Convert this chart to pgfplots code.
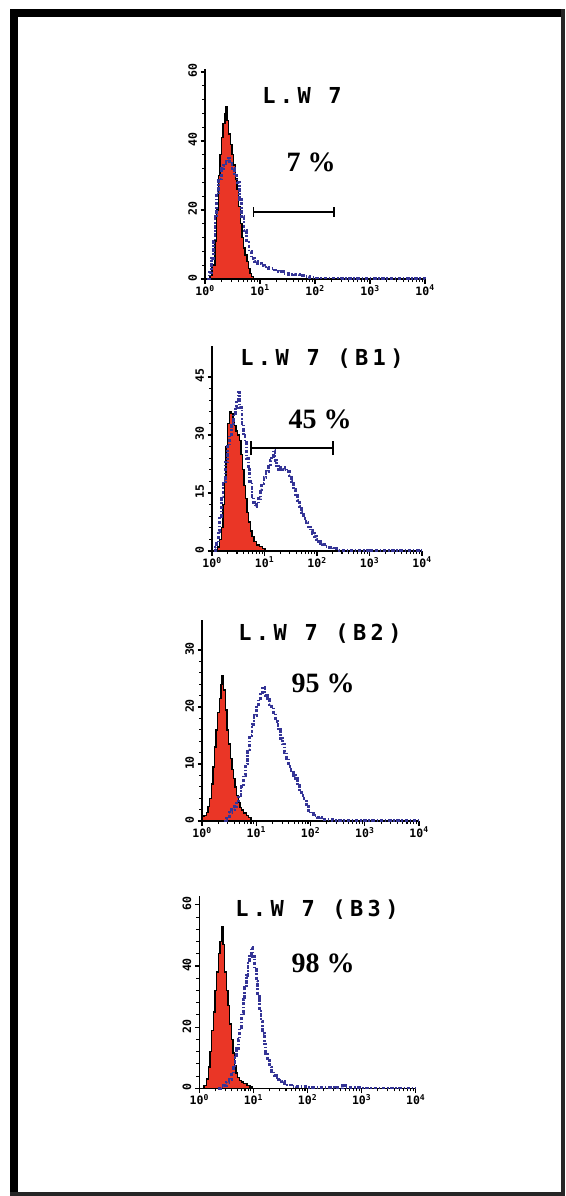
\documentclass[border=0pt]{standalone}
\usepackage{fontspec}
\usepackage{pgfplots}
\pgfplotsset{compat=1.18}
\setmainfont{Liberation Serif}
\newfontfamily\titlefont[LetterSpace=20]{DejaVu Sans Mono}
\newfontfamily\tickfont{DejaVu Sans Mono}
\definecolor{fred}{RGB}{234,54,38}
\definecolor{fblue}{RGB}{52,52,150}

\pgfplotsset{
  facs/.style={
    scale only axis, enlargelimits=false, clip=false,
    xmin=0, xmax=4, ymin=0,
    axis x line=bottom, axis y line=left,
    axis line style={-, line width=1.3pt},
    tick align=outside,
    xtick={0,1,2,3,4},
    xticklabels={10\textsuperscript{0},10\textsuperscript{1},10\textsuperscript{2},10\textsuperscript{3},10\textsuperscript{4}},
    minor xtick={0.301,0.477,0.602,0.699,0.778,0.845,0.903,0.954,
                 1.301,1.477,1.602,1.699,1.778,1.845,1.903,1.954,
                 2.301,2.477,2.602,2.699,2.778,2.845,2.903,2.954,
                 3.301,3.477,3.602,3.699,3.778,3.845,3.903,3.954},
    minor y tick num=4,
    major tick length=4.5pt, minor tick length=3pt,
    every tick/.style={black, line width=1.1pt},
    /pgf/number format/assume math mode=true,
    tick label style={font=\tickfont\bfseries\fontsize{11.5}{12}\selectfont},
    xticklabel style={yshift=2pt},
    yticklabel style={rotate=90, anchor=south, xshift=1pt},
  },
  red hist/.style={const plot, fill=fred, draw=black, line width=1.4pt},
  blue hist/.style={const plot, fblue, line width=2.8pt, dash pattern=on 3.5pt off 1.6pt on 1.6pt off 1.6pt},
}

\begin{document}
\begin{tikzpicture}[x=1pt,y=1pt]
\path[use as bounding box] (0pt,0pt) rectangle (565pt,-1196pt);
\fill[white] (0pt,0pt) rectangle (565pt,-1196pt);
% frame
\fill[black] (10pt,-9pt) rectangle (18pt,-1196pt);
\fill[black] (10pt,-9pt) rectangle (565pt,-17pt);
\fill[black!85] (561pt,-9pt) rectangle (565pt,-1196pt);
\fill[black!85] (10pt,-1192pt) rectangle (565pt,-1196pt);

% ---------------- Panel 1 ----------------
\begin{axis}[facs, at={(205pt,-279pt)}, anchor=south west,
  width=220pt, height=210.5pt, ymax=61, ytick={0,20,40,60}]
\addplot[red hist] table {
x y
0.05 0
0.09 1
0.13 4
0.18 11
0.21 20
0.24 30
0.27 36
0.30 41
0.33 45
0.36 48
0.38 50
0.40 46
0.43 42
0.46 39
0.49 36
0.52 33
0.55 29
0.58 26
0.61 21
0.64 16
0.67 12
0.70 9
0.73 7
0.76 5
0.79 3
0.82 1.6
0.85 0.7
0.88 0
} \closedcycle;
\addplot[blue hist] table {
x y
0.04 0
0.08 2
0.12 6
0.15 11
0.18 18
0.21 25
0.25 29
0.30 32
0.34 33
0.38 34
0.42 35
0.45 34
0.49 32
0.53 30
0.58 28
0.62 23
0.67 18
0.71 14
0.76 11
0.80 8
0.84 6
0.90 5
0.96 4.5
1.02 4
1.08 3.5
1.15 3
1.24 2.6
1.33 2.1
1.42 1.7
1.52 1.4
1.62 1.2
1.72 1.0
1.82 0.8
1.90 0.5
2.00 0.3
2.50 0.2
3.00 0.2
3.50 0.15
4.00 0.1
};
\addplot[black, line width=2.4pt] coordinates {(0.88,19.5) (2.35,19.5)};
\addplot[black, line width=1.8pt] coordinates {(0.88,18) (0.88,21)};
\addplot[black, line width=1.8pt] coordinates {(2.35,18) (2.35,21)};
\end{axis}

% ---------------- Panel 2 ----------------
\begin{axis}[facs, at={(212pt,-551pt)}, anchor=south west,
  width=210pt, height=205pt, ymax=53, ytick={0,15,30,45}]
\addplot[red hist] table {
x y
0.06 0
0.10 1
0.14 3
0.18 6
0.21 12
0.24 19
0.27 27
0.30 33
0.33 36
0.36 35.5
0.40 34
0.43 32.5
0.46 31
0.49 30
0.52 28.5
0.55 25
0.58 21
0.61 17
0.64 13.5
0.67 10
0.70 7.5
0.73 5.2
0.76 3.7
0.80 2.5
0.85 1.6
0.91 1.1
0.96 0.6
1.01 0
} \closedcycle;
\addplot[blue hist] table {
x y
0.03 0
0.06 1
0.09 2
0.12 5
0.15 9
0.18 14
0.21 18
0.25 23
0.29 27
0.33 30
0.37 33
0.41 35.5
0.44 37
0.47 38.5
0.50 41
0.53 37
0.57 33
0.60 30
0.63 28
0.66 24
0.69 21
0.72 18
0.76 14
0.79 12.5
0.82 11.5
0.85 12
0.88 13.5
0.92 16
0.95 17.5
0.99 19
1.03 20.5
1.07 22
1.11 23.5
1.14 24.5
1.17 26
1.20 23.5
1.23 22
1.27 21
1.31 21.5
1.35 21
1.39 21.5
1.43 20.5
1.47 19.5
1.51 18
1.55 16
1.59 14.5
1.63 13
1.67 11.5
1.71 10
1.75 8.5
1.79 7.3
1.83 6.2
1.87 5.3
1.91 4.6
1.95 3.8
1.99 3.0
2.03 2.5
2.07 2.0
2.11 1.6
2.15 1.2
2.20 1.0
2.26 0.8
2.32 0.7
2.38 0.5
2.42 0.2
2.60 0.1
3.00 0.1
3.50 0.1
4.00 0.1
};
\addplot[black, line width=2.4pt] coordinates {(0.74,26.6) (2.30,26.6)};
\addplot[black, line width=1.8pt] coordinates {(0.74,24.8) (0.74,28.4)};
\addplot[black, line width=1.8pt] coordinates {(2.30,24.8) (2.30,28.4)};
\end{axis}

% ---------------- Panel 3 ----------------
\begin{axis}[facs, at={(202pt,-821pt)}, anchor=south west,
  width=217pt, height=200.6pt, ymax=35.2, ytick={0,10,20,30}]
\addplot[red hist] table {
x y
0.00 0.8
0.04 1
0.08 1.5
0.11 2.5
0.14 4
0.17 6.5
0.20 9.5
0.23 13
0.26 16
0.29 19
0.32 21.5
0.35 24
0.37 25.5
0.40 23
0.43 19.5
0.46 16
0.49 13.5
0.52 11
0.55 9
0.58 7.5
0.61 6
0.64 4.5
0.67 3.3
0.70 2.4
0.73 1.9
0.77 1.4
0.82 1.0
0.86 0.6
0.90 0
} \closedcycle;
\addplot[blue hist] table {
x y
0.40 0
0.45 0.5
0.50 1.5
0.55 2
0.60 2.5
0.64 3.5
0.68 4.5
0.72 6
0.76 8
0.80 10
0.84 12.5
0.88 15
0.92 17
0.96 18.5
1.00 20
1.04 21.5
1.08 22.5
1.12 23.5
1.16 22
1.20 21.5
1.24 20.5
1.28 20
1.32 19
1.36 17.5
1.40 16
1.44 14.5
1.48 13.5
1.52 12
1.56 11
1.60 9.5
1.64 8.5
1.68 8
1.72 7.5
1.76 6.5
1.80 5
1.84 4.5
1.88 3.5
1.92 2.5
1.96 1.8
2.00 1.3
2.05 0.9
2.12 0.6
2.20 0.3
2.40 0.1
3.00 0.1
4.00 0.1
};
\end{axis}

% ---------------- Panel 4 ----------------
\begin{axis}[facs, at={(199.3pt,-1088.3pt)}, anchor=south west,
  width=216.4pt, height=192.6pt, ymax=63, ytick={0,20,40,60}]
\addplot[red hist] table {
x y
0.05 0
0.09 1
0.13 3
0.17 7
0.20 12
0.23 19
0.26 25
0.29 32
0.32 38
0.35 44
0.38 48
0.41 53
0.44 47
0.47 38
0.50 32
0.53 27
0.56 21
0.59 16
0.62 11.5
0.65 7.5
0.68 5
0.71 3.5
0.74 2.5
0.78 2
0.82 1.5
0.88 0.9
0.94 0.4
0.98 0
} \closedcycle;
\addplot[blue hist] table {
x y
0.35 0
0.40 0.5
0.45 1
0.50 2
0.55 3
0.59 4.5
0.63 7
0.66 10
0.69 13
0.72 16
0.75 20
0.78 24.5
0.81 29
0.84 33
0.87 37
0.90 41
0.93 44
0.96 46
0.99 43
1.02 39
1.05 35
1.08 30
1.11 26
1.14 22
1.17 18
1.20 14.5
1.23 11.5
1.26 9
1.30 7
1.34 5.5
1.38 4.2
1.42 3.5
1.47 2.7
1.52 2.2
1.57 1.6
1.62 1.1
1.70 0.7
1.80 0.5
2.00 0.3
2.50 0.2
2.65 0.8
2.70 0.2
3.00 0.1
4.00 0.1
};
\end{axis}

% ---------------- Texts ----------------
\begin{scope}[every node/.style={inner sep=0pt}]
\node[font=\titlefont\bfseries\fontsize{22}{22}\selectfont] at (302pt,-95pt) {L.W 7};
\node[font=\titlefont\bfseries\fontsize{22}{22}\selectfont] at (322pt,-359pt) {L.W 7 (B1)};
\node[font=\titlefont\bfseries\fontsize{22}{22}\selectfont] at (320pt,-634pt) {L.W 7 (B2)};
\node[font=\titlefont\bfseries\fontsize{22}{22}\selectfont] at (317pt,-910pt) {L.W 7 (B3)};
\node[font=\bfseries\fontsize{28}{30}\selectfont] at (311pt,-162pt) {7 \%};
\node[font=\bfseries\fontsize{28}{30}\selectfont] at (320pt,-419pt) {45 \%};
\node[font=\bfseries\fontsize{28}{30}\selectfont] at (323pt,-683pt) {95 \%};
\node[font=\bfseries\fontsize{28}{30}\selectfont] at (323pt,-963pt) {98 \%};
\end{scope}
\end{tikzpicture}
\end{document}
